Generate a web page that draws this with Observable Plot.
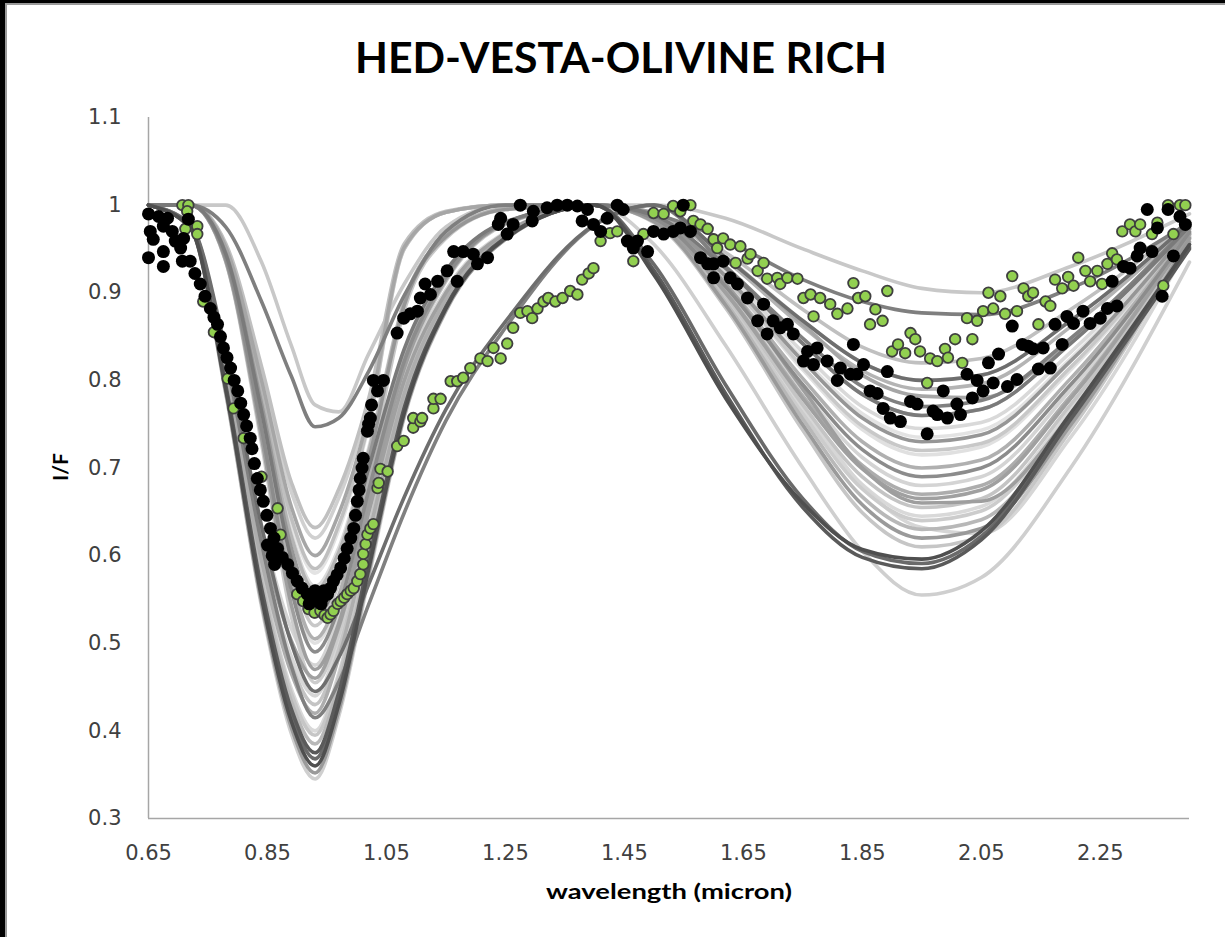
<!DOCTYPE html>
<html>
<head>
<meta charset="utf-8">
<script src="https://cdn.jsdelivr.net/npm/d3@7"></script>
<script src="https://cdn.jsdelivr.net/npm/@observablehq/plot@0.6"></script>
<style>
  html, body { margin: 0; padding: 0; background: #fff; }
  #page { position: relative; width: 1225px; height: 937px; overflow: hidden; background: #fff; }
  #chart { position: absolute; left: 0; top: 0; }
  #overlay { position: absolute; left: 0; top: 0; pointer-events: none; }
</style>
</head>
<body>
<div id="page">
  <div id="chart"></div>
  <svg id="overlay" width="1225" height="937">
    <rect x="0" y="0" width="1225" height="3" fill="#000"></rect>
    <rect x="0" y="3" width="1225" height="2" fill="#9a9a9a"></rect>
    <rect x="0" y="0" width="5" height="937" fill="#000"></rect>
    <rect x="5" y="3" width="2" height="934" fill="#9a9a9a"></rect>
    <text x="621" y="73" text-anchor="middle" font-family="Lato, 'Open Sans', sans-serif" font-weight="bold" font-size="42" textLength="532" lengthAdjust="spacingAndGlyphs" fill="#000">HED-VESTA-OLIVINE RICH</text>
    <text x="669" y="899" text-anchor="middle" font-family="Lato, 'Open Sans', sans-serif" font-weight="bold" font-size="21" textLength="246" lengthAdjust="spacingAndGlyphs" fill="#000">wavelength (micron)</text>
    <text transform="translate(68,467) rotate(-90)" text-anchor="middle" font-family="Lato, 'Open Sans', sans-serif" font-weight="bold" font-size="21" fill="#000">I/F</text>
  </svg>
</div>
<script>
// Axis settings
const xDomain = [0.65, 2.40];
const yDomain = [0.3, 1.1];
const xTicks = [0.65, 0.85, 1.05, 1.25, 1.45, 1.65, 1.85, 2.05, 2.25];
const yTicks = [0.3, 0.4, 0.5, 0.6, 0.7, 0.8, 0.9, 1, 1.1];

// Wavelength grid (micron) shared by the continuum-removed HED spectra
const hedWavelengths = [0.65, 0.72, 0.78, 0.84, 0.89, 0.93, 0.97, 1.02, 1.08, 1.15, 1.25, 1.40, 1.50, 1.62, 1.75, 1.85, 1.95, 2.05, 2.20, 2.40];

// Continuum-removed reflectance (I/F) of each HED spectrum on that grid
const hedSpectra = [
  [1, 1, 1, 0.935, 0.84, 0.772, 0.764, 0.83, 0.91, 0.975, 1, 1, 1, 0.985, 0.95, 0.925, 0.905, 0.90, 0.93, 0.99],
  [1, 1, 0.975, 0.89, 0.805, 0.747, 0.757, 0.81, 0.897, 0.97, 1, 1, 0.99, 0.96, 0.915, 0.89, 0.877, 0.875, 0.905, 0.98],
  [1, 1, 0.956, 0.816, 0.684, 0.632, 0.676, 0.779, 0.956, 0.993, 1, 1, 0.991, 0.946, 0.881, 0.838, 0.82, 0.825, 0.881, 0.982],
  [1, 1, 0.954, 0.81, 0.673, 0.62, 0.666, 0.772, 0.954, 0.992, 1, 1, 0.99, 0.94, 0.868, 0.82, 0.80, 0.806, 0.868, 0.98],
  [1, 1, 0.952, 0.80, 0.656, 0.60, 0.648, 0.76, 0.952, 0.992, 1, 1, 0.991, 0.941, 0.864, 0.806, 0.782, 0.78, 0.846, 0.974],
  [1, 1, 0.95, 0.793, 0.643, 0.585, 0.635, 0.751, 0.95, 0.992, 1, 1, 0.988, 0.928, 0.842, 0.784, 0.76, 0.767, 0.842, 0.976],
  [1, 1, 0.948, 0.783, 0.626, 0.565, 0.609, 0.722, 0.891, 0.965, 0.996, 1, 0.987, 0.924, 0.832, 0.77, 0.745, 0.752, 0.832, 0.975],
  [1, 1, 0.945, 0.773, 0.609, 0.545, 0.59, 0.709, 0.886, 0.964, 0.995, 1, 0.987, 0.919, 0.822, 0.757, 0.73, 0.738, 0.822, 0.973],
  [1, 1, 0.942, 0.76, 0.587, 0.52, 0.568, 0.693, 0.88, 0.962, 0.995, 1, 0.986, 0.916, 0.815, 0.748, 0.72, 0.728, 0.815, 0.972],
  [1, 1, 0.941, 0.753, 0.574, 0.505, 0.555, 0.683, 0.827, 0.921, 0.98, 1, 0.985, 0.91, 0.802, 0.73, 0.70, 0.709, 0.802, 0.97],
  [1, 1, 0.939, 0.745, 0.561, 0.49, 0.541, 0.674, 0.822, 0.918, 0.98, 1, 0.985, 0.907, 0.795, 0.721, 0.69, 0.70, 0.795, 0.969],
  [1, 0.979, 0.827, 0.633, 0.517, 0.475, 0.533, 0.659, 0.806, 0.903, 0.969, 1, 0.984, 0.904, 0.789, 0.712, 0.68, 0.69, 0.789, 0.968],
  [1, 0.978, 0.822, 0.622, 0.503, 0.46, 0.519, 0.649, 0.80, 0.90, 0.968, 1, 0.983, 0.90, 0.779, 0.699, 0.665, 0.675, 0.779, 0.967],
  [1, 0.978, 0.834, 0.634, 0.50, 0.445, 0.484, 0.567, 0.667, 0.767, 0.867, 0.978, 1, 0.94, 0.868, 0.82, 0.80, 0.806, 0.868, 0.98],
  [1, 0.977, 0.812, 0.601, 0.476, 0.43, 0.493, 0.63, 0.789, 0.895, 0.966, 1, 0.983, 0.897, 0.772, 0.69, 0.655, 0.665, 0.772, 0.966],
  [1, 0.977, 0.825, 0.614, 0.474, 0.415, 0.456, 0.544, 0.649, 0.754, 0.86, 0.977, 1, 0.93, 0.848, 0.793, 0.77, 0.777, 0.848, 0.977],
  [1, 0.976, 0.802, 0.58, 0.448, 0.40, 0.466, 0.61, 0.778, 0.889, 0.964, 1, 0.982, 0.894, 0.766, 0.681, 0.645, 0.656, 0.766, 0.965],
  [1, 0.975, 0.797, 0.57, 0.434, 0.385, 0.453, 0.60, 0.772, 0.886, 0.963, 1, 0.982, 0.889, 0.756, 0.667, 0.63, 0.641, 0.756, 0.963],
  [1, 0.975, 0.794, 0.563, 0.425, 0.375, 0.444, 0.594, 0.769, 0.884, 0.963, 1, 0.925, 0.785, 0.655, 0.598, 0.585, 0.618, 0.755, 0.95],
  [1, 0.975, 0.791, 0.558, 0.419, 0.368, 0.438, 0.589, 0.766, 0.883, 0.962, 1, 0.932, 0.795, 0.665, 0.605, 0.591, 0.622, 0.758, 0.952],
  [1, 0.974, 0.789, 0.552, 0.411, 0.36, 0.43, 0.584, 0.763, 0.882, 0.962, 1, 0.92, 0.78, 0.66, 0.607, 0.596, 0.628, 0.762, 0.955],
  [1, 0.974, 0.786, 0.546, 0.404, 0.352, 0.423, 0.579, 0.76, 0.88, 0.961, 1, 0.981, 0.886, 0.749, 0.658, 0.62, 0.631, 0.749, 0.962],
  [1, 0.974, 0.784, 0.542, 0.397, 0.345, 0.417, 0.574, 0.758, 0.879, 0.961, 1, 0.955, 0.84, 0.70, 0.605, 0.555, 0.575, 0.70, 0.935],
  [1, 1, 0.94, 0.75, 0.57, 0.50, 0.55, 0.68, 0.825, 0.92, 0.98, 1, 0.986, 0.915, 0.812, 0.744, 0.715, 0.724, 0.812, 0.972],
  [1, 1, 0.944, 0.765, 0.596, 0.53, 0.577, 0.699, 0.836, 0.925, 0.981, 1, 0.988, 0.928, 0.842, 0.784, 0.76, 0.767, 0.842, 0.976],
  [1, 1, 0.935, 0.728, 0.531, 0.455, 0.51, 0.651, 0.809, 0.913, 0.978, 1, 0.982, 0.892, 0.762, 0.676, 0.64, 0.651, 0.762, 0.964],
  [1, 0.977, 0.809, 0.594, 0.466, 0.42, 0.484, 0.623, 0.785, 0.893, 0.965, 1, 0.984, 0.901, 0.782, 0.703, 0.67, 0.68, 0.782, 0.967],
  [1, 1, 0.947, 0.78, 0.622, 0.56, 0.604, 0.718, 0.89, 0.965, 0.996, 1, 0.99, 0.937, 0.861, 0.811, 0.79, 0.796, 0.861, 0.979],
  [1, 0.978, 0.815, 0.608, 0.485, 0.44, 0.502, 0.636, 0.793, 0.896, 0.966, 1, 0.985, 0.90, 0.77, 0.68, 0.632, 0.625, 0.735, 0.955],
  [1, 1, 0.936, 0.735, 0.544, 0.47, 0.523, 0.661, 0.814, 0.915, 0.979, 1, 0.988, 0.91, 0.79, 0.70, 0.66, 0.662, 0.76, 0.958],
  [1, 0.976, 0.80, 0.577, 0.443, 0.395, 0.462, 0.607, 0.776, 0.888, 0.964, 1, 0.98, 0.883, 0.743, 0.649, 0.61, 0.622, 0.743, 0.961],
  [1, 1, 0.95, 0.79, 0.639, 0.58, 0.63, 0.748, 0.95, 0.992, 1, 1, 0.987, 0.92, 0.825, 0.762, 0.735, 0.743, 0.825, 0.974]
];

// Vesta spectrum samples [wavelength, I/F]
const vestaPoints = [
  [0.650,0.990],[0.667,0.987],[0.682,0.985],[0.653,0.970],[0.675,0.976],[0.658,0.961],[0.690,0.970],[0.650,0.940],
  [0.675,0.947],[0.675,0.930],[0.695,0.959],[0.709,0.962],[0.717,0.984],[0.704,0.951],[0.707,0.936],
  [0.720,0.936],[0.728,0.922],[0.737,0.910],[0.745,0.896],[0.754,0.882],[0.760,0.872],[0.766,0.864],[0.771,0.850],
  [0.776,0.837],[0.782,0.826],[0.788,0.814],[0.794,0.800],[0.800,0.788],[0.805,0.774],[0.810,0.761],[0.815,0.748],
  [0.821,0.734],[0.824,0.722],[0.828,0.705],[0.833,0.688],[0.838,0.675],[0.843,0.662],[0.849,0.646],[0.855,0.631],
  [0.861,0.620],[0.867,0.608],[0.875,0.598],[0.884,0.590],[0.892,0.580],[0.900,0.571],[0.908,0.563],[0.917,0.556],
  [0.925,0.550],[0.934,0.548],[0.942,0.551],[0.951,0.556],[0.956,0.563],[0.961,0.571],[0.967,0.578],[0.973,0.586],
  [0.979,0.597],[0.984,0.608],[0.990,0.620],[0.995,0.631],[0.998,0.646],[1.001,0.662],[1.004,0.675],[1.006,0.688],
  [1.009,0.700],[1.011,0.711],[0.858,0.600],[0.862,0.590],[0.850,0.612],[0.920,0.545],[0.940,0.545],[0.930,0.560],
  [0.945,0.560],[1.018,0.742],[1.020,0.750],[1.023,0.757],[1.025,0.772],[1.028,0.800],[1.035,0.788],[1.045,0.800],
  [1.068,0.854],[1.079,0.871],[1.090,0.876],[1.102,0.879],[1.107,0.894],[1.124,0.898],[1.115,0.910],[1.136,0.913],
  [1.152,0.925],[1.169,0.913],[1.163,0.947],[1.179,0.947],[1.196,0.944],[1.203,0.933],[1.220,0.940],[1.238,0.978],
  [1.242,0.985],[1.253,0.967],[1.263,0.978],[1.275,1.000],[1.295,0.982],[1.297,0.993],[1.320,0.997],[1.337,1.000],
  [1.354,1.000],[1.371,0.999],[1.379,0.982],[1.388,0.995],[1.398,0.978],[1.410,0.970],[1.421,0.985],[1.438,1.000],
  [1.448,0.995],[1.455,0.959],[1.465,0.951],[1.472,0.959],[1.489,0.947],[1.499,0.970],[1.516,0.967],[1.532,0.970],
  [1.544,0.974],[1.549,1.000],[1.561,0.970],[1.578,0.940],[1.590,0.933],[1.600,0.933],[1.616,0.936],[1.600,0.917],
  [1.628,0.917],[1.640,0.910],[1.657,0.894],[1.684,0.887],[1.674,0.868],[1.700,0.868],[1.690,0.853],[1.712,0.860],
  [1.724,0.864],[1.734,0.853],[1.758,0.833],[1.774,0.837],[1.751,0.822],[1.768,0.818],[1.791,0.822],[1.813,0.814],
  [1.835,0.841],[1.852,0.818],[1.808,0.800],[1.830,0.807],[1.841,0.807],[1.863,0.788],[1.875,0.785],[1.892,0.810],
  [1.885,0.768],[1.897,0.757],[1.914,0.753],[1.931,0.776],[1.942,0.773],[1.959,0.739],[1.969,0.765],[1.976,0.761],
  [1.986,0.788],[1.993,0.757],[2.009,0.773],[2.015,0.761],[2.026,0.807],[2.035,0.780],[2.043,0.800],[2.053,0.788],
  [2.062,0.820],[2.070,0.797],[2.079,0.830],[2.094,0.793],[2.102,0.862],[2.110,0.801],[2.119,0.841],[2.129,0.839],
  [2.137,0.836],[2.146,0.813],[2.154,0.837],[2.166,0.814],[2.174,0.864],[2.186,0.841],[2.194,0.873],[2.205,0.865],
  [2.221,0.879],[2.233,0.865],[2.250,0.871],[2.262,0.882],[2.270,0.913],[2.278,0.885],[2.289,0.930],[2.300,0.928],
  [2.312,0.942],[2.317,0.951],[2.329,0.995],[2.337,0.947],[2.346,0.974],[2.354,0.896],[2.364,0.995],[2.373,0.942],
  [2.384,0.987],[2.393,0.978]
];

// Olivine-rich spectrum samples [wavelength, I/F]
const olivinePoints = [
  [0.707,1.000],[0.717,1.000],[0.715,0.993],[0.712,0.973],[0.732,0.976],[0.732,0.967],[0.742,0.890],[0.760,0.855],
  [0.783,0.802],[0.793,0.768],[0.810,0.734],[0.840,0.690],[0.867,0.654],[0.872,0.624],[0.860,0.605],[0.900,0.556],
  [0.910,0.548],[0.919,0.539],[0.929,0.535],[0.939,0.537],[0.946,0.532],[0.951,0.529],[0.956,0.533],[0.961,0.537],
  [0.968,0.545],[0.973,0.548],[0.979,0.552],[0.984,0.556],[0.990,0.560],[0.995,0.563],[1.001,0.571],[1.006,0.579],
  [1.011,0.590],[1.011,0.602],[1.015,0.613],[1.018,0.624],[1.023,0.631],[1.028,0.636],[1.035,0.677],[1.037,0.683],
  [1.040,0.699],[1.052,0.696],[1.068,0.725],[1.079,0.731],[1.095,0.746],[1.095,0.757],[1.107,0.753],[1.110,0.757],
  [1.129,0.768],[1.129,0.779],[1.141,0.779],[1.158,0.799],[1.169,0.799],[1.179,0.803],[1.191,0.814],[1.208,0.825],
  [1.220,0.822],[1.230,0.837],[1.242,0.825],[1.253,0.842],[1.263,0.860],[1.275,0.877],[1.287,0.879],[1.295,0.871],
  [1.304,0.882],[1.314,0.890],[1.322,0.894],[1.334,0.890],[1.346,0.894],[1.359,0.902],[1.371,0.898],[1.379,0.915],
  [1.390,0.922],[1.398,0.928],[1.410,0.959],[1.426,0.968],[1.438,0.970],[1.465,0.936],[1.482,0.967],[1.499,0.991],
  [1.516,0.990],[1.532,0.999],[1.544,0.993],[1.561,1.000],[1.566,0.982],[1.578,0.978],[1.590,0.973],[1.600,0.961],
  [1.606,0.951],[1.616,0.962],[1.628,0.955],[1.637,0.934],[1.645,0.953],[1.657,0.939],[1.662,0.944],[1.674,0.925],
  [1.684,0.934],[1.690,0.916],[1.707,0.917],[1.712,0.910],[1.724,0.917],[1.741,0.916],[1.751,0.894],[1.763,0.898],
  [1.768,0.873],[1.779,0.894],[1.796,0.887],[1.808,0.876],[1.825,0.882],[1.835,0.911],[1.843,0.894],[1.855,0.896],
  [1.863,0.864],[1.872,0.881],[1.884,0.868],[1.892,0.902],[1.900,0.833],[1.910,0.841],[1.922,0.831],[1.931,0.854],
  [1.939,0.847],[1.947,0.833],[1.959,0.797],[1.964,0.825],[1.976,0.822],[1.989,0.836],[1.994,0.826],[2.006,0.847],
  [2.018,0.820],[2.026,0.871],[2.035,0.847],[2.043,0.868],[2.053,0.879],[2.062,0.900],[2.070,0.882],[2.082,0.896],
  [2.090,0.876],[2.102,0.919],[2.110,0.879],[2.121,0.905],[2.129,0.896],[2.137,0.900],[2.146,0.864],[2.158,0.890],
  [2.166,0.885],[2.174,0.915],[2.186,0.905],[2.196,0.918],[2.205,0.908],[2.213,0.940],[2.225,0.925],[2.233,0.913],
  [2.245,0.925],[2.253,0.910],[2.262,0.933],[2.270,0.945],[2.278,0.938],[2.287,0.970],[2.300,0.978],[2.309,0.970],
  [2.317,0.978],[2.337,0.967],[2.346,0.980],[2.356,0.908],[2.364,1.000],[2.373,0.967],[2.384,1.000],[2.393,1.000]
];

// Grey ramp for the HED curves, one tone per spectrum
const hedTones = [
  "#c8c8c8", "#7f7f7f", "#c0c0c0", "#d0d0d0", "#a6a6a6", "#bfbfbf", "#d9d9d9", "#969696",
  "#c8c8c8", "#b0b0b0", "#8c8c8c", "#d4d4d4", "#a0a0a0", "#6e6e6e", "#c4c4c4", "#808080",
  "#d9d9d9", "#b8b8b8", "#5a5a5a", "#6a6a6a", "#4f4f4f", "#9a9a9a", "#cfcfcf", "#e0e0e0",
  "#7a7a7a", "#cccccc", "#adadad", "#b4b4b4", "#d6d6d6", "#9e9e9e", "#c6c6c6", "#e3e3e3"
];

// One table per spectrum; lighter curves go underneath darker ones
const hedCurves = hedSpectra
  .map((values, i) => ({
    tone: hedTones[i],
    rows: hedWavelengths.map((w, j) => ({w, v: values[j]}))
  }))
  .sort((a, b) => d3.hsl(b.tone).l - d3.hsl(a.tone).l);

const chart = Plot.plot({
  width: 1225,
  height: 937,
  marginLeft: 148,
  marginRight: 36,
  marginTop: 117,
  marginBottom: 119,
  style: {
    fontFamily: "'DejaVu Sans', Verdana, sans-serif",
    fontSize: "21px",
    color: "#404040",
    background: "transparent",
    overflow: "visible"
  },
  x: {
    domain: xDomain,
    ticks: xTicks,
    tickFormat: d => d.toFixed(2),
    tickSize: 0,
    tickPadding: 27,
    label: null
  },
  y: {
    domain: yDomain,
    ticks: yTicks,
    tickFormat: d => String(d),
    tickSize: 0,
    tickPadding: 27,
    label: null
  },
  marks: [
    Plot.ruleX([xDomain[0]], {stroke: "#a6a6a6", strokeWidth: 1.5}),
    Plot.ruleY([yDomain[0]], {stroke: "#a6a6a6", strokeWidth: 1.5}),
    ...hedCurves.map(c => Plot.line(c.rows, {
      x: "w", y: "v", stroke: c.tone, strokeWidth: 3.6, curve: "monotone-x",
      strokeLinejoin: "round", strokeLinecap: "round"
    })),
    Plot.dot(olivinePoints, {
      x: d => d[0], y: d => d[1], r: 5.3,
      fill: "#92d050", stroke: "#3f3f3f", strokeWidth: 1.8
    }),
    Plot.dot(vestaPoints, {
      x: d => d[0], y: d => d[1], r: 6.5, fill: "#000", stroke: "none"
    })
  ]
});

document.getElementById("chart").appendChild(chart);
</script>
</body>
</html>
